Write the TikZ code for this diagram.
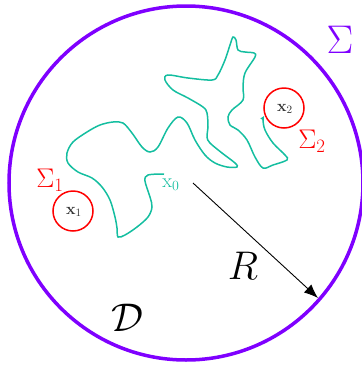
\documentclass[tikz,border=0pt]{standalone}
\usepackage{fix-cm}
\usetikzlibrary{arrows.meta}
\definecolor{vio}{RGB}{127,0,255}
\definecolor{teal2}{RGB}{20,190,160}
\begin{document}
\begin{tikzpicture}[x=1pt,y=-1pt,
  bigc/.style={draw=vio,line width=3.5pt},
  smallc/.style={draw=red,line width=1.5pt,circle,minimum size=40pt,inner sep=0pt},
  walk/.style={draw=teal2,line width=1.5pt},
  lab/.style={inner sep=0pt}]
\useasboundingbox (0,0) rectangle (362,365);
\draw[bigc] (186,183) circle[radius=177];
\node[lab,text=vio,font=\fontsize{40}{40}\selectfont] (sig) at (340,40) {$\Sigma$};
\node[smallc] (c1) at (73,211) {};
\node[smallc] (c2) at (284,108) {};
\node[lab,font=\fontsize{16}{16}\selectfont,text=black!80] (x1) at (74,212) {$\mathbf{x}_1$};
\node[lab,font=\fontsize{16}{16}\selectfont,text=black!80] (x2) at (285,109) {$\mathbf{x}_2$};
\node[lab,text=red,font=\fontsize{27}{27}\selectfont] (s1) at (50,180) {$\Sigma_1$};
\node[lab,text=red,font=\fontsize{27}{27}\selectfont] (s2) at (312,141) {$\Sigma_2$};
\node[lab,text=teal2,font=\fontsize{20}{20}\selectfont] (x0) at (171,185) {$\mathrm{x}_0$};
\node[lab,font=\fontsize{40}{40}\selectfont] (R) at (243,266) {$R$};
\node[lab,font=\fontsize{40}{40}\selectfont] (D) at (127,318) {$\mathcal{D}$};
\coordinate (o) at (193,183);
\coordinate (e) at (318,298);
\draw[line width=0.9pt,-{Latex[length=14pt,width=11pt]}] (o) -- (e);
\draw[walk,-{Latex[length=4pt,width=4pt]}] plot[smooth,tension=0.55] coordinates {
(164,174) (148,175) (145,181) (150,197) (152,207) (148,217) (137,227) (125,235) (118,237) (117,228) (115,217) (110,200) (102,187) (92,178) (78,172) (68,163) (67,153) (73,142) (87,132) (100,125) (113,122) (123,123) (132,133) (142,147) (150,152) (158,147) (168,128) (178,117) (187,123) (195,140) (205,155) (215,163) (227,167) (237,167) (235,163) (222,153) (210,143) (207,137) (208,127) (207,113) (203,107) (188,98) (173,90) (165,80) (168,75) (188,78) (212,80) (218,75) (225,60) (230,45) (233,37) (236,40) (238,50) (245,52) (254,53) (255,57) (245,73) (243,87) (243,100) (232,110) (228,117) (230,125) (238,130) (247,140) (255,157) (263,168) (273,165) (287,160) (285,155) (273,143) (265,130) (263,120) (264,116)};
\end{tikzpicture}
\end{document}
